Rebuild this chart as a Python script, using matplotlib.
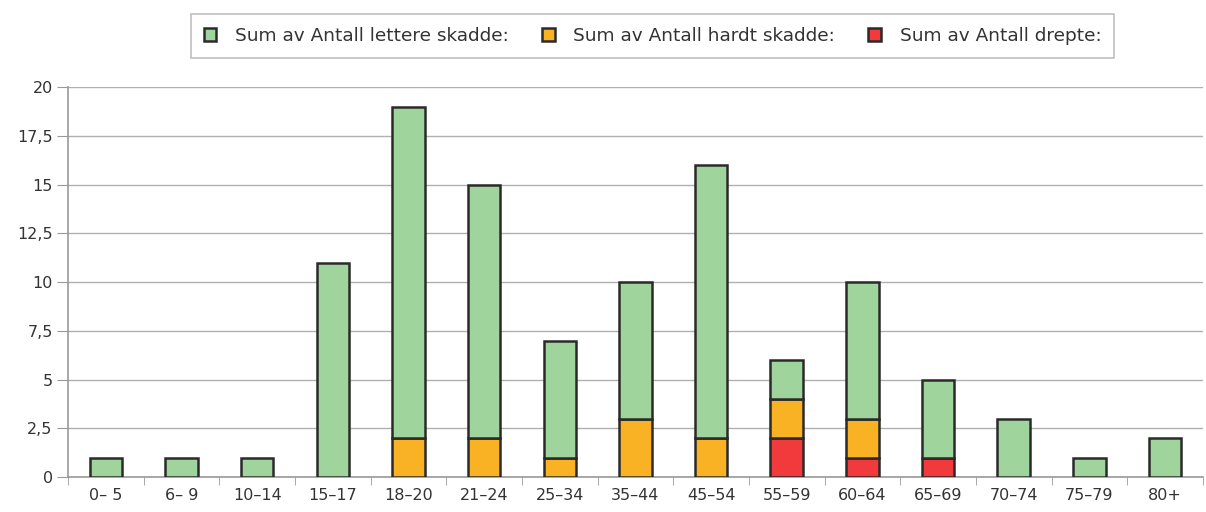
import matplotlib.pyplot as plt
from matplotlib.ticker import FixedLocator
import numpy as np

# Data
categories = ["0\u2013 5", "6\u2013 9", "10\u201314", "15\u201317", "18\u201320", "21\u201324",
              "25\u201334", "35\u201344", "45\u201354", "55\u201359", "60\u201364", "65\u201369",
              "70\u201374", "75\u201379", "80+"]
drepte = [0, 0, 0, 0, 0, 0, 0, 0, 0, 2, 1, 1, 0, 0, 0]
hardt = [0, 0, 0, 0, 2, 2, 1, 3, 2, 2, 2, 0, 0, 0, 0]
lettere = [1, 1, 1, 11, 17, 13, 6, 7, 14, 2, 7, 4, 3, 1, 2]
yticks = [0, 2.5, 5, 7.5, 10, 12.5, 15, 17.5, 20]
ytick_labels = ["0", "2,5", "5", "7,5", "10", "12,5", "15", "17,5", "20"]

plt.rcParams["font.family"] = ["DejaVu Sans"]

fig = plt.figure(figsize=(12.06, 5.12), dpi=100)
ax = fig.add_axes([0.0564, 0.068, 0.941, 0.762])

x = np.arange(len(categories))
drepte = np.array(drepte)
hardt = np.array(hardt)
lettere = np.array(lettere)
w = 0.43
edge = "#2a2a2a"

ax.bar(x, drepte, w, color="#f2393b", edgecolor=edge, linewidth=1.8, zorder=3,
       label="Sum av Antall drepte:")
ax.bar(x, hardt, w, bottom=drepte, color="#f8b224", edgecolor=edge, linewidth=1.8,
       zorder=3, label="Sum av Antall hardt skadde:")
ax.bar(x, lettere, w, bottom=drepte + hardt, color="#9fd49c", edgecolor=edge,
       linewidth=1.8, zorder=3, label="Sum av Antall lettere skadde:")

ax.set_xlim(-0.5, len(categories) - 0.5)
ax.set_ylim(0, 20)
ax.set_yticks(yticks)
ax.set_yticklabels(ytick_labels, fontsize=11.5, color="#333333")
ax.set_xticks(x)
ax.set_xticklabels(categories, fontsize=11.5, color="#333333")
ax.tick_params(axis="x", length=0, pad=8)
ax.xaxis.set_minor_locator(FixedLocator(np.arange(-0.5, len(categories), 1)))
ax.tick_params(axis="x", which="minor", length=6, color="#999999")
ax.tick_params(axis="y", length=8, color="#999999", pad=3)

ax.grid(axis="y", color="#b0b0b0", linewidth=1, zorder=0)
for s in ["top", "right"]:
    ax.spines[s].set_visible(False)
ax.spines["left"].set_color("#999999")
ax.spines["bottom"].set_color("#999999")
ax.spines["left"].set_linewidth(1.2)
ax.spines["bottom"].set_linewidth(1.2)

handles, labels = ax.get_legend_handles_labels()
leg = fig.legend(handles[::-1], labels[::-1], loc="center", bbox_to_anchor=(0.541, 0.93),
                 ncol=3, fontsize=13.3, frameon=True, fancybox=False, edgecolor="#b0b0b0",
                 handlelength=0.7, handleheight=0.7, columnspacing=1.8, handletextpad=1.0,
                 borderpad=0.7, borderaxespad=0)
leg.get_frame().set_linewidth(1.2)
for t in leg.get_texts():
    t.set_color("#333333")

fig.savefig("out.png", dpi=100)
